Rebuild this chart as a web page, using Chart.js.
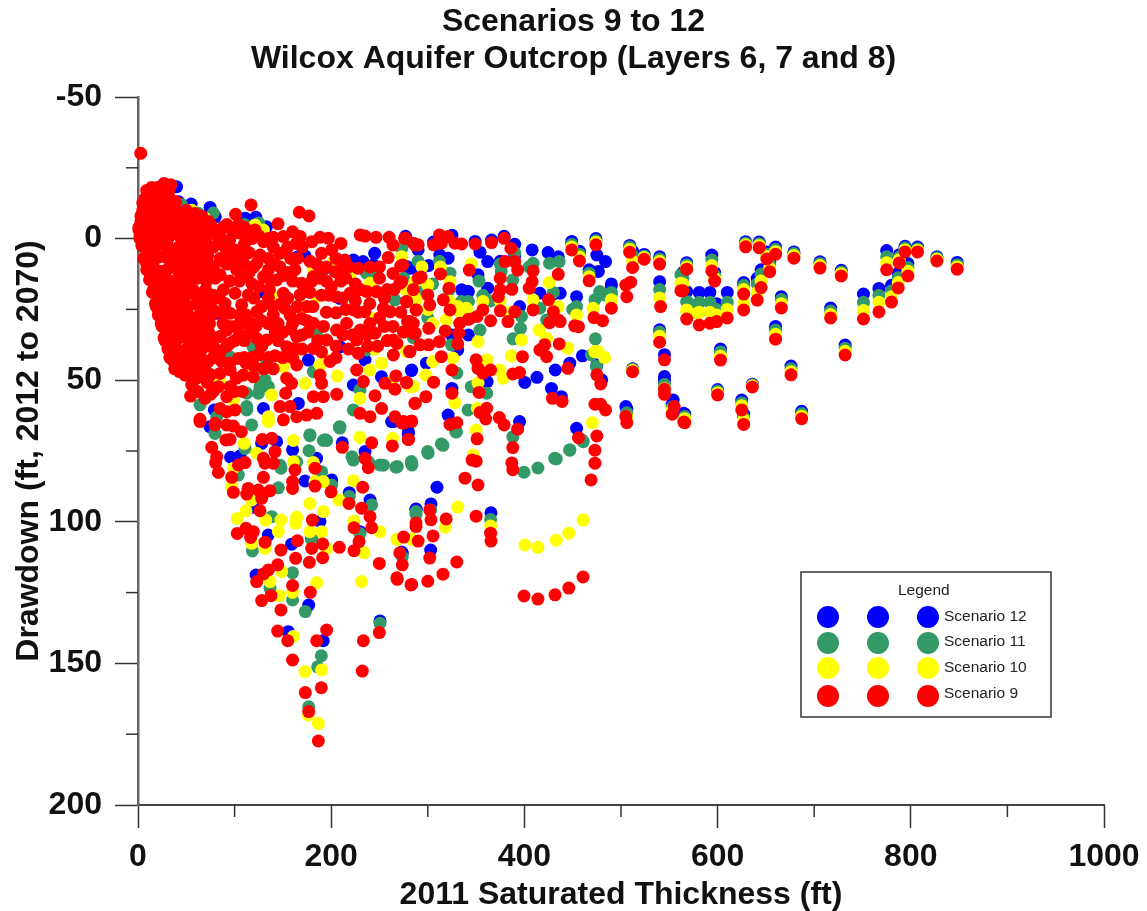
<!DOCTYPE html>
<html>
<head>
    <title>Scenarios 9 to 12</title>
    <script src="https://cdn.jsdelivr.net/npm/chart.js"></script>
    <style>
        body { margin: 0; background: white; }
        canvas { display: block; }
    </style>
</head>
<body>
    <canvas id="drawdown" width="1147" height="911"></canvas>

    <script>
    const chartTitle = ['Scenarios 9 to 12', 'Wilcox Aquifer Outcrop (Layers 6, 7 and 8)'];
    const legendNames = ['Scenario 12', 'Scenario 11', 'Scenario 10', 'Scenario 9'];
    const legendColors = ['#0000ff', '#339966', '#ffff00', '#ff0000'];
    const xMinorTicks = [100, 300, 500, 700, 900];
    const yMinorTicks = [-25, 25, 75, 125, 175];

    // [thickness, drawdown]
    const scenario12 = [
        [40,-18.3],[42,-13],[55,-12.2],[74.6,-11],[80,-7.7],[111,-7.2],[122,-7.5],[133,-4.2],[173,6.1],[165,6.5],[245,5.2],[243.6,9.3],[223,7.6],[233,8.1],[128,18.7],[81.5,26.4],[112.5,4.6],[193.6,10.5],[209,21.1],[281.6,10.5],[209,38.2],[176.4,42.9],[235,42.9],[283.3,46.4],[252,48.8],[222.9,51.7],[166,58.2],[129.8,60],[79,60.5],[264,64.6],[26.3,25.8],
        [95.9,77.2],[134.9,104.7],[119.4,94.9],[159,107.9],[188.4,99.9],[191.8,142],[155.6,138.8],[176.7,129.4],[122.2,118.8],[172.9,85.6],[200.5,85.2],[184.9,77.6],[160,74.6],[143.5,71.7],[218.7,89.7],[240.2,92.3],[229.8,103.5],[250.5,135],[273.6,111.1],[287.8,95.6],[179.8,105.8],[105.6,76.8],[74.5,66.4],[128,72.3],[279.8,69],[235,75.2],[211.5,72.1],[262.6,64.6],
        [408,4],[424.5,4.9],[435,6.4],[475,5.8],[484,8.1],[476.5,11.6],[490,16.7],[454,20.5],[437,19.3],[416,19.3],[362,8.1],[354,4.8],[321,6.9],[312.4,5.8],[352,12.8],[335,18.1],[342,18.7],[362,17.5],[301,9.5],[293.4,10.5],[278.6,9.9],[288,10.5],[395,24],[342,34],[324.5,34],[331,39.3],[283,46.6],[298.6,44],[460,41.4],[447,44],[432,46.4],[413,49],[400.4,50.8],[361.4,50.5],[395,64.6],[428,52.9],[438.3,55.8],[475,44.6],[480,49.9],[325,52.9],[321,62.3],[280,68.2],[454,67],[505,59.3],[545,48.7],[545,41],[554,57],[565,61.7],[540,32.2],[540,15.2],[540,6.4],[568,8.5],[524,5.6],[509,2.4],[512,4.5],[449,1],[457,4.5],[474,0],[467,11],[490,16],
        [277,-0.8],[306,1.2],[325,-1.2],[349,1],[366,0.5],[379,-0.8],[390,2],[390,6],[375,8],[430,19.5],[470,12],[290,4],
        [365.4,96.8],[309.5,87.8],[287.8,95.5],[303.3,93.7],[273,110.7],[303,110],
        [594,5.8],[597,12],[564,12],[568,18.7],[581,19],[592,19],[599,23],[610,19],[629,1.1],[643,1.2],[660,3],[651,4.7],[654,8],[679,4.7],[627,15.5],[645,11],[641,14],[666,20.5],[660,31],[706,8.2],[728,11.2],[717,24.5],[751,19.6],[767,17.6],[775,4.2],[794,2.7],[807,3],[788,5.7],[797,8.8],[787,12.2],[780,16.5],[827,6.4],[848,8.4],
        [600,53.3],[603,39],[625,57],[627,62],[636,51.4],[676,45],[687,61],[732,37.6],[566,62],[553,58.5],[545,50],[512,46],[506,60]
    ];
    const scenario11 = [
        [64.2,58.7],[112.5,54.6],[112.5,59.3],[124.6,54.6],[131.5,49.9],[135,52.3],[126.3,52.3],[112.5,60.5],[52,4],[119,38.2],[133.2,44],[243.6,11.7],[236.7,12.3],[185,34],[181.5,47],[222.9,60.5],[209,66.4],[273,3.4],[266,21.7],[274.7,32.9],[229.8,53.4],[236.7,39.3],[117.7,65.8],[78,25.2],[217.7,11.1],[181.5,10.5],[95,41.7],[81.5,62.9],[71,44],[45,-12],[62,-9],[78,-9],[110,-5],[125,-5.5],
        [118.4,110.3],[138.4,98.2],[160,118],[160,127.6],[173.2,131.7],[189.8,147.3],[186,151.2],[176.7,165.3],[145.3,88],[148,81.1],[147,80],[178,69.6],[191.8,71.3],[195.3,71.3],[208.4,66.6],[177,74.9],[222.9,78.2],[250.5,79.9],[268.4,80.5],[283.3,79.4],[190.1,82.3],[103.9,83.5],[79.7,68.8],[110.8,74.1],[136.7,123.5],[241.9,94],[250.5,135.8],[179.8,106.4],[273.6,112.3],[287.8,96.4],[164.3,78.8],[218.7,91.1],[200.5,87],[229.8,104.1],
        [353,15],[473.5,35.4],[396,31.7],[388.3,35.4],[478,18.7],[483,19.9],[354,32.3],[397,27.5],[324.5,37.5],[330,47.5],[341.7,60.5],[329.7,68.2],[314,72.5],[300.3,75.8],[283,78.7],[361,54.6],[345,52.3],[431.4,77.6],[447,74.6],[461,71.7],[426,8.7],[436,8.1],[335,22.2],[342,22.2],[357,20],[454,24],[473,21.6],[490,19.3],[416,24.6],[423,28.7],[409,8.7],[376,11.6],[388,14.6],[323,12.2],[290,18.7],[388,70],[469.4,41.1],[540,18],[562,12.8],[568.4,22.2],[578,23.4],[474.6,45.2],[540,7.2],[568,9.2],[524,6.2],[509,3],[512,6],[449,2],[457,5.5],[474,0.7],[467,12.2],[490,19],
        [275,14],[290,8],[305,16],[312,8],[322,18],[365,22],[375,9],[390,5],[405,10],[430,19],[450,25],[345,28],[300,28],[285,35],
        [399.6,82.5],[414,81],[433,77.8],[447,74.7],[459.6,71.1],[267,80.7],[283.6,79.9],[300,75.2],[315.7,73],[329,68.3],[254,80],[238.7,78.9],[221.5,77],[178,69.3],[193.6,71],[209,66.9],[365,99.2],[303,95.8],[287.8,97.3],
        [594,7.6],[597,13],[564,14],[568,22.3],[581,22.5],[592,22.5],[599,25],[610,22.5],[629,1.6],[643,1.8],[660,3.8],[651,5.5],[654,9.3],[679,5.3],[627,16.5],[645,12.5],[641,16],[666,21.5],[660,32.3],[706,8.8],[728,11.8],[717,25.6],[751,22.5],[767,20],[775,6.4],[794,3.3],[807,3.6],[788,6.6],[797,10.2],[787,13.8],[780,18.5],[827,6.8],[848,9.2],
        [600,53.8],[603,40],[625,58],[627,63],[636,51.7],[676,46],[687,61.8],[732,38.7],[566,62.8],[553,59.5],[545,51.5],[540,33],[512,46.2],[506,61.5]
    ];
    const scenario10 = [
        [245.3,39],[252.2,44],[240,46.4],[206.3,48.5],[172.9,51.1],[229.8,56.4],[150.5,45.2],[119.4,45.8],[138.4,55.2],[134.9,62.9],[188.4,44.6],[160.8,41.7],[273,6.4],[243.6,28.2],[184.9,20.5],[209,8.1],[202.2,8.1],[181.5,11],[138.4,19.9],[121.1,17.6],[110.8,11.7],[171.2,24],[278,18.2],[278,39.9],[219.5,14],[240.2,15.8],[85,50.5],[98.7,57],[43.5,39.3],[281.6,52.3],[262.6,50.5],[286.7,15.2],[195.3,42.9],[69.4,-7.1],[121.1,-4.8],[129.8,-3],[55.6,-10],
        [102.8,98.8],[111.8,96.1],[132.2,99.4],[148,99.4],[164.3,98.4],[163.2,100.5],[178,93.5],[191.8,96.4],[178,103.5],[190,103.5],[145.3,103.5],[117.7,107.6],[131.5,109.4],[195.3,109.4],[233.9,110.9],[184.9,121.5],[231.5,121.1],[146.3,126.1],[160.8,140.5],[172.9,152.9],[190.1,152.3],[186.7,171.2],[176.3,168.2],[222.9,85.5],[250.5,103.5],[268.4,106.2],[283.3,106.2],[223.6,99.7],[208,92.3],[160.8,71.3],[229.8,70.2],[110,72.3],[134.9,64.6],[160.8,78.8],[181.5,79.1],[122.9,75.8],[98.7,81.1],[97,87.6],[117.7,92.3],[183.2,85.8],[136.7,121.1],[148.7,117.6],[160,124.9],[191.8,85.8],[263.6,70.5],
        [425.6,15.5],[415.2,32.3],[423,35.2],[445,38.7],[397,35.8],[352,36.4],[386.6,41.4],[361.4,42.8],[378,49.3],[374.5,46.4],[326,42.2],[305,43.4],[298,48.2],[285,52.2],[328,57.9],[352,51],[351.4,59.9],[350,67.6],[470.4,65],[476.3,39.9],[483,42],[472.8,39.9],[347,76.4],[340,24.6],[333,25.8],[357,22.2],[409,21.6],[454,27],[471,24.6],[490,21.6],[568,25.2],[579,26.4],[540,21],[562,15.8],[300,16.4],[323,15.2],[278,18.1],[319,28.7],[288,21.6],[540,8],[568,10],[524,6.7],[509,3.8],[512,8],[449,3],[457,6.5],[474,1.3],[467,13.5],[490,22],
        [285,20],[300,25],[305,30],[322,22],[331,24],[375,22],[385,26],[435,24],[294,10],[313,10],[345,9],
        [400.6,108.2],[414,109],[433,106.5],[446,104],[460.7,99.4],[365,101.5],[331,94.8],[318,101.9],[283.6,106.2],[268,106.2],
        [594,9.5],[597,14],[564,16],[568,25.4],[581,26],[592,26],[599,27],[610,25],[629,2.2],[643,2.4],[660,4.6],[651,6.3],[654,10.5],[679,6],[627,18],[645,15],[641,19],[627,23],[666,23],[660,33.8],[706,9.5],[728,12.4],[717,26.8],[751,25.4],[767,22.5],[775,8.5],[794,4],[807,4.1],[788,7.5],[797,11.5],[787,15.5],[780,20.5],[827,7.3],[848,10],
        [600,54.5],[603,41.5],[625,59],[627,64],[636,52],[676,47],[687,62.7],[732,39.8],[566,63.6],[553,60.5],[545,53],[540,34.5],[512,46.5],[506,63]
    ];
    const scenario9 = [
        [2.8,-30.1],[2,0],[1,-3],[3,-6],[5,-10],[7,-14],[9,-17],[14,-18],[20,-18],[27,-19.5],[34,-19],[28,-16],[22,-14],[15,-13],[8,-11],[5,-5],[10,-6],[16,-8],[24,-10],[32,-12],[38,-8],[30,-5],[20,-4],[12,-2],[6,3],[10,5],[15,2],[22,0],[30,1],[40,-2],[50,-4],[55,-1],[65,-3],[70,1],[60,3],[48,3],[38,4],[28,6],[18,7],[9,9],[13,13],[20,12],[30,11],[40,9],[52,8],[62,7],[72,6],[78,10],[68,12],[55,14],[45,15],[35,16],[25,17],[16,18],[19,24],[28,23],[38,22],[48,21],[60,20],[70,18],[75,24],[65,26],[52,27],[42,28],[32,29],[24,30],[28,36],[38,34],[48,33],[58,32],[68,31],[74,30],[70,37],[60,38],[50,39],[40,40],[33,42],[38,46],[45,44],[55,43],[65,42],[78,36],[78,3],[85,7],[82,-1],[110,2],[118,0],[105,-2],[92,3],[88,8],
        [11,-16.5],[18,-17],[25,-17.5],[32,-17],[5,-12.5],[12,-13.5],[19,-12],[26,-13],[33,-14],[39,-13],[3,-8],[9,-9],[16,-10],[23,-8],[30,-9],[37,-10],[44,-9],[51,-8.5],[1,-4],[7,-5],[14,-5],[21,-6],[28,-4],[35,-5],[42,-6],[49,-4.5],[56,-5],[63,-6],[70,-3],[2,-1],[8,0],[15,-1],[24,-2],[33,-1],[43,-1],[52,0],[60,-1],[68,1],[76,-2],[4,2.5],[10,3],[17,3.5],[25,2],[33,4],[42,3],[50,5],[58,3],[66,4],[74,3.5],[6,7],[13,8],[22,6.5],[31,7],[40,6],[47,8],[56,7.5],[64,8],[72,8.5],[9,11],[16,10],[24,11.5],[33,10],[41,11],[50,11.5],[59,10.5],[67,10],[75,12],[12,14.5],[19,15],[28,14],[37,15],[46,13],[53,15.5],[62,14],[71,15],[15,19],[22,20],[31,19],[40,18],[50,19],[57,18],[66,19.5],[74,20],[18,23],[25,22],[34,24],[43,23],[52,24],[60,23],[69,23],[76,27],[21,27],[29,26],[37,27],[46,26],[55,28],[63,29],[71,27],[25,31],[31,32],[40,31],[49,30],[56,33],[65,34],[73,33],[27,35],[34,36],[43,35],[53,36],[62,35],[74,38],[31,39],[38,38],[46,40],[56,40],[66,39],[80,39],[36,43],[42,42],[51,44],[60,45],[68,45],[78,42],[43,47],[53,47],[66,48],
        [80,14],[78,20],[82,26],[88,30],[80,35],[92,38],[100,36],[108,30],[112,27],[118,30],[128,29],[135,30],[145,30],[150,33],[158,32],[170,34],[176,33],[186,36],[205,38],[212,34],[222,34],[237,34],[255,31],[258,36],[240,30],[228,26],[215,25],[210,15],[195,10],[178,19],[160,15],[155,21],[175,24],[150,13],[136,18],[128,24],[118,16],[108,8],[115,5],[95,15],[105,15],[92,9],[90,3],[105,5],[135,7],[140,3],[155,3],[170,3],[185,9],[195,15],[230,18],[215,14],[250,14],[258,18],[285,18],[272,26],[275,33],[268,37],[250,28],[120,10],[135,11],[158,7],[110,36],[128,38],[145,36],[170,39],[135,42],[110,42],[95,37],[118,42],[150,42],[75,48],[85,40],[95,44],[78,54],[62,54],[100,54],
        [88,1],[95,5],[110,9],[115,12],[125,17],[135,14],[142,9],[155,12],[165,7],[178,8],[190,11],[205,7],[218,10],[225,16],[240,10],[250,10],[210,11],[200,17],[190,20],[180,15],[165,24],[148,23],[135,21],[120,21],[105,27],[95,31],[105,34],[122,31],[140,27],[160,30],[175,29],[195,26],[212,21],[225,22],[240,23],[255,21],[265,18],[238,38],[248,38],[218,39],[205,42],[190,40],[160,42],[142,33],[90,26],[84,21],[120,45],[130,46],[140,46],[108,54],[75,55],[85,60],[112,44],
        [50,-7],[62,-5],[75,-5],[85,-3],[92,-5],[104,-5],[110,-4],[125,-1],[135,0],[88,-4],[66,-8],[50,-10],
        [101,-8.6],[117,-11.9],[167,-9.3],[177,-8],[145,-5.2],[160,-2.4],[230,-1.3],[235,-0.9],[246.4,-0.45],[260,-0.45],[276,-0.1],[287,2.3],[264,2.3],[210,1.7],[197,-0.1],[188.4,-0.45],[180,1.1],[164,1.7],[168,-0.7],[150.5,-0.7],[140,-0.45],[130,1.1],[121,-3],[114,-0.7],[97,-3],[95,0.5],[85,-0.7],[59,-8.9],[73,-6],[47,-6.6],
        [190,5.2],[200.5,4],[214,7.6],[228,10.5],[259,6.7],[272,9.7],[264,12.3],[271,15.8],[290,14],[278,22.3],[288,25.2],[281.6,29.3],[285,33.4],[264,31],[261,25.8],[254,24.6],[237,18.7],[247,18.7],[235,25.8],[223,25.2],[219.5,19.3],[205,20.5],[197,20],[188.4,14],[181.5,13.4],[204,11.7],[162.5,11],[169.4,15.8],[167.7,19.9],[174.6,18.2],[181,24],[205,26.2],[150.5,19.3],[143.6,14.6],[130,13.4],[123,8.7],[126.3,5.8],[147,5.2],[147,10],[112.5,13.4],[102,11],[98.7,7.6],[100.4,4],[85,12.8],[88.4,18.1],[100.4,19.3],[114.2,19.9],[90,22.9],[95.3,26.4],[107.3,23.4],[122.9,25.8],[140,24],[152,24.6],[157.4,27],[169.4,28.2],[181.5,29.9],[192,31],[205.6,32.3],[216,29.9],[230,32.3],[245.3,33.4],[226.4,35.8],[195.3,35.8],[181.5,38.8],[198.8,43.4],[228,40.5],[264.3,35.8],[264.3,41.1],[281.6,39.9],[164.3,34.6],[153.9,38.2],[162.5,38.8],[141.8,41.4],[124.6,41.1],[133.2,35.8],[116,33.4],[122.9,35.2],[100.4,31],[91.8,32.3],[85,34.6],[103.9,42.3],[86.6,43.4],[72.8,43.4],[60.8,41.7],[47,44],[48.7,48.2],[62.5,46.4],[60.8,49.3],[71.8,50.8],[55.6,51.7],[54.5,55.6],[69.4,56.4],[83.2,52.3],[91.8,55.8],[95.3,52.3],[102,49.3],[109,48.2],[119.4,48.8],[85,47.6],[95.3,46.4],[153.9,49.3],[164.3,44.6],[159,51.1],[152.9,54.6],[147,59.3],[157.4,59.3],[150.5,64],[164.3,62.9],[174.6,62.3],[185,61.7],[191.9,55.8],[181.5,55.8],[188.4,48.2],[190.1,51.1],[205.7,55],[226.4,46.4],[233.3,50.5],[255.7,51.1],[266,53.2],[267,48.5],[278,50.9],[245.3,55.5],[252.2,60],[286.7,58.2],[229.8,61.7],[240.2,62.9],[266,62.9],[274.7,64.6],[283.3,64.6],[64.2,63.8],[79.7,65.2],[91.8,61.1],[100.4,60.5],
        [64.2,64.6],[79.7,65.8],[91.8,65.8],[98.7,66.2],[107,68.2],[76.3,73.7],[91,71.1],[95.3,70.9],[81.5,77],[80.4,79.1],[83.2,82.6],[97,84.3],[98.7,89.6],[112.5,90.2],[114,88.2],[124.6,88.8],[129.8,90],[128,91.7],[136.7,89],[129.8,84.3],[126.3,96.1],[102.8,104.1],[111.8,102.3],[119.4,103.5],[116.6,105.5],[131.5,107.2],[128.7,70.9],[138.4,70.5],[141.8,75.2],[129.8,77.6],[140,79.3],[131.5,79.3],[110.8,79.1],[103.9,79.9],[162.5,81.7],[160,85.8],[160,88.2],[183.2,81.1],[183.2,87.4],[199.8,89.4],[218.4,93.5],[231.5,95.2],[240.2,98.2],[241.9,102.1],[223.6,102.1],[228.8,107],[223.6,110.2],[208.4,109],[191.2,107.8],[191.2,112.7],[177.4,114.3],[163.2,112.9],[179.8,109.4],[165,106.7],[180.5,99.4],[148,110],[144.6,115.2],[135,117],[129.8,118.4],[122.9,121.1],[160,122.5],[178.4,124.9],[137.7,126.1],[128,127.8],[148,131.1],[144.6,138.6],[155,142],[185,142],[195.3,138.2],[160,148.8],[233.3,142],[249.8,139.1],[287.8,101.7],[273.6,115.2],[249.8,114.7],[268.4,120.3],[283.3,122.1],[232.2,152.7],[189.8,158.6],[173.2,160.3],[176.7,167],[186.7,177.4],[211.5,73.7],[241.9,72.1],[263.3,73.2],[279.8,70.9],[235,77.6],[238.4,80.9],[232.6,87.8],[274.7,65.2],
        [277,-0.1],[285,1.6],[290,2.2],[306,2.2],[312,-1.3],[321,-0.7],[314,1.6],[328,1.6],[335,1.9],[349,1.9],[366,1.4],[379,-0.1],[386,3.4],[380,8.1],[390,8.1],[393,11.1],[343,11.1],[313,12.5],[293,13.6],[274,9.3],[273,15.2],[322,17.5],[375,14],[375,18.1],[373,20.5],[387,17.9],[409,11.4],[408,15.2],[405,17.5],[435,12.6],[449,4],[457,7.9],[474,2.2],[467,14.9],[509,4.8],[524,7.3],[512,10.2],[540,9],[568,10.8],[562,18.4],[506,20.5],[510,15.4],[505,16.4],[541,24],[490,24.6],[481,29],[472,27.9],[456,31.1],[452,30.8],[435,28.7],[426,29.7],[437,29.3],[430,25.8],[425,21.6],[409,25.2],[390,25.8],[375,25.5],[383,29.3],[365,29],[357,25.2],[351,27.5],[342,28.5],[333,29.9],[332,33.4],[318,32.6],[323,25.2],[316,21.6],[302,23.4],[300,19.9],[288,25.2],[278,22.2],[279,29.3],[285,29.9],[287,33.4],[301,31.7],[301,37.5],[292,37.5],[312,36.4],[281,39.9],[331,37.2],[314,41.7],[325,46.4],[350,42.8],[352,45.8],[357,47.5],[365,46.4],[388,47.8],[395,47.3],[398,41.7],[416,39.3],[421,37.5],[423,41.7],[436,37.2],[445,45.8],[475,48.1],[479,51.3],[429,56.4],[439,57.5],[353,54.3],[325,54.6],[306,50.7],[278,50.8],[298,55.8],[287,58.1],[473,58.5],[479,58.5],[484,60.5],[505,62.8],[555,59.3],[565,64.8],[545,53.2],[545,42.8],[512,47],[540,36.6],[354,61.4],[361,59.9],[360,63.7],[374,63.2],[379,65.8],[393,67.3],[323,65.6],[330,65],[273,65],[283,64.4],[280,70.9],[351,70.7],[388,73.8],[456,70.3],[475,69.7],
        [399.6,126.2],[414,127.3],[431.7,125.8],[446,123.4],[460.7,119.5],[268,119.8],[282.6,122.3],[300,121],[315.7,118.5],[330,114.2],[365.4,106.8],[365,104],[350,98],[287.8,100.4],[303.3,99.3],[319,99],[302,95.8],[271,111],[302,112.8],[275,105.4],[290,106.8],[305.4,105],[350,78.6],[352,87],[387,79.2],[388,81.6],[473,74.7],[473,79.3],[469,85.2],[338.5,84.6],[345.8,78.2],
        [594,11.4],[597,15],[564,18.4],[568,28.4],[581,30.5],[592,29.9],[599,29.3],[610,28],[629,2.9],[643,3.2],[660,5.5],[651,7.2],[654,11.7],[679,6.9],[627,19.6],[645,17.3],[641,21.7],[627,25.2],[666,24.5],[660,35.5],[706,10.4],[728,13.2],[717,28],[751,28.4],[767,25.9],[775,11],[794,4.7],[807,4.7],[788,8.6],[797,13.2],[787,17.4],[780,22.4],[827,7.9],[848,10.8],
        [600,55.2],[603,42.9],[625,60.5],[627,65.6],[636,52.4],[676,48.1],[687,63.6],[732,41.1],[566,65],[553,62],[545,55],[506,65]
    ];

    function toPoints(rows) {
        return rows.map(r => ({ x: r[0], y: r[1] }));
    }

    function makeDataset(label, rows, color) {
        return {
            label: label,
            data: toPoints(rows),
            backgroundColor: color,
            borderWidth: 0,
            pointRadius: 6.5,
            pointHoverRadius: 6.5,
            clip: false
        };
    }

    // shorter unlabelled ticks between the labelled ones
    const minorTicks = {
        id: 'minorTicks',
        beforeDatasetsDraw(chart) {
            const ctx = chart.ctx;
            const xs = chart.scales.x, ys = chart.scales.y;
            ctx.save();
            ctx.strokeStyle = '#333';
            ctx.lineWidth = 1.5;
            xMinorTicks.forEach(v => {
                const px = xs.getPixelForValue(v);
                ctx.beginPath();
                ctx.moveTo(px, xs.top);
                ctx.lineTo(px, xs.top + 12);
                ctx.stroke();
            });
            yMinorTicks.forEach(v => {
                const py = ys.getPixelForValue(v);
                ctx.beginPath();
                ctx.moveTo(ys.right, py);
                ctx.lineTo(ys.right - 12, py);
                ctx.stroke();
            });
            ctx.restore();
        }
    };

    // title is centred on the whole page, not the padded area
    const heading = {
        id: 'heading',
        afterDraw(chart) {
            const ctx = chart.ctx;
            ctx.save();
            ctx.fillStyle = '#111';
            ctx.font = 'bold 32px "Liberation Sans"';
            ctx.textAlign = 'center';
            ctx.textBaseline = 'middle';
            ctx.fillText(chartTitle[0], chart.width / 2, 22);
            ctx.fillText(chartTitle[1], chart.width / 2, 59);
            ctx.restore();
        }
    };

    // legend box has three markers per row, so it is drawn here
    const legendBox = {
        id: 'legendBox',
        afterDraw(chart) {
            const ctx = chart.ctx;
            ctx.save();
            ctx.fillStyle = 'white';
            ctx.strokeStyle = '#333';
            ctx.lineWidth = 1.5;
            ctx.fillRect(801, 572, 250, 145);
            ctx.strokeRect(801, 572, 250, 145);
            ctx.fillStyle = '#222';
            ctx.font = '15.5px "Liberation Sans"';
            ctx.textBaseline = 'middle';
            ctx.textAlign = 'left';
            ctx.fillText('Legend', 898, 591);
            const rowY = [617, 643, 668, 696];
            const textY = [617, 642, 668, 694];
            legendNames.forEach((name, i) => {
                [828, 878, 928].forEach(x => {
                    ctx.beginPath();
                    ctx.arc(x, rowY[i], 11, 0, Math.PI * 2);
                    ctx.fillStyle = legendColors[i];
                    ctx.fill();
                });
                ctx.fillStyle = '#222';
                ctx.fillText(name, 944, textY[i]);
            });
            ctx.restore();
        }
    };

    new Chart(document.getElementById('drawdown').getContext('2d'), {
        type: 'scatter',
        data: {
            datasets: [
                makeDataset('Scenario 9', scenario9, legendColors[3]),
                makeDataset('Scenario 10', scenario10, legendColors[2]),
                makeDataset('Scenario 11', scenario11, legendColors[1]),
                makeDataset('Scenario 12', scenario12, legendColors[0])
            ]
        },
        plugins: [minorTicks, heading, legendBox],
        options: {
            responsive: false,
            animation: false,
            layout: { padding: { right: 43, top: 97 } },
            plugins: {
                legend: { display: false },
                tooltip: { enabled: false },
                title: { display: false }
            },
            scales: {
                x: {
                    type: 'linear',
                    min: 0,
                    max: 1000,
                    afterFit: scale => {
                        scale.height = 106;
                        scale.paddingLeft = 0;
                        scale.paddingRight = 0;
                    },
                    border: { color: '#444', width: 2 },
                    grid: { drawOnChartArea: false, tickLength: 23, tickColor: '#333', tickWidth: 1.5 },
                    ticks: {
                        stepSize: 200,
                        maxRotation: 0,
                        color: '#111',
                        padding: 10,
                        callback: v => String(v),
                        font: { family: '"Liberation Sans"', size: 32, weight: 'bold' }
                    },
                    title: {
                        display: true,
                        text: '2011 Saturated Thickness (ft)',
                        color: '#111',
                        padding: { top: 0, bottom: 0 },
                        font: { family: '"Liberation Sans"', size: 32, weight: 'bold', lineHeight: 1 }
                    }
                },
                y: {
                    type: 'linear',
                    reverse: true,
                    min: -50,
                    max: 200,
                    afterFit: scale => {
                        scale.width = 138;
                        scale.paddingTop = 0;
                        scale.paddingBottom = 0;
                    },
                    border: { color: '#666', width: 2.5 },
                    grid: { drawOnChartArea: false, tickLength: 23, tickColor: '#333', tickWidth: 1.5 },
                    ticks: {
                        stepSize: 50,
                        color: '#111',
                        padding: 13,
                        font: { family: '"Liberation Sans"', size: 32, weight: 'bold' }
                    },
                    title: {
                        display: true,
                        text: 'Drawdown (ft, 2012 to 2070)',
                        color: '#111',
                        padding: { top: 13, bottom: 0 },
                        font: { family: '"Liberation Sans"', size: 32, weight: 'bold', lineHeight: 1 }
                    }
                }
            }
        }
    });
    </script>
</body>
</html>
